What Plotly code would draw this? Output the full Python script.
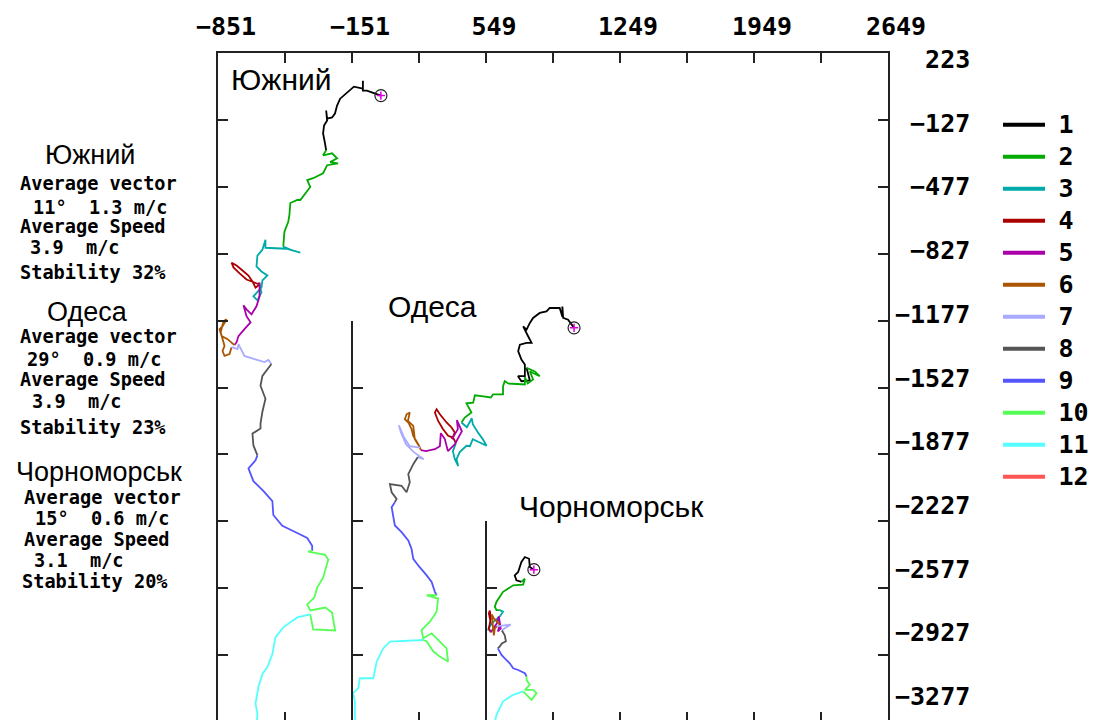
import plotly.graph_objects as go

# ---------------- data ----------------
MONTH_NAMES = ["1", "2", "3", "4", "5", "6", "7", "8", "9", "10", "11", "12"]
MONTH_COLORS = ["#000000", "#00aa00", "#00aaaa", "#aa0000", "#aa00aa", "#aa5500",
                "#aaaaff", "#555555", "#5555ff", "#55ff55", "#55ffff", "#ff5555"]

X_MIN, X_MAX = -851, 2649
X_TICKS = [-851, -501, -151, 199, 549, 899, 1249, 1599, 1949, 2299, 2649]
X_TICK_LABELS = ["\u2212851", "", "\u2212151", "", "549", "", "1249", "", "1949", "", "2649"]
Y_MIN, Y_MAX = -3277, 223
Y_TICKS = [223, -127, -477, -827, -1177, -1527, -1877, -2227, -2577, -2927, -3277]
Y_TICK_LABELS = ["223", "\u2212127", "\u2212477", "\u2212827", "\u22121177", "\u22121527",
                 "\u22121877", "\u22122227", "\u22122577", "\u22122927", "\u22123277"]

STATIONS = ["Южний", "Одеса", "Чорноморськ"]
AVG_DIRECTION = [11, 29, 15]
AVG_VECTOR = [1.3, 0.9, 0.6]
AVG_SPEED = [3.9, 3.9, 3.1]
STABILITY = [32, 23, 20]

# sub-axes (Odesa, Chornomorsk): x position and top value
SUB_AXIS_X = [-151, 549]
SUB_AXIS_TOP = [-1177, -2227]

# progressive vector paths, one list per month
YUZHNYI_X = [
    [0, -31, -73, -94, -94, -94, -141, -177, -213, -229, -240, -255, -281, -286, -281, -297, -302, -292, -286],
    [-286, -302, -255, -229, -265, -224, -281, -302, -354, -385, -369, -395, -421, -437, -473, -478, -484, -504, -510],
    [-510, -473, -421, -494, -603, -603, -619, -645, -650, -624, -593, -619, -624, -645, -666, -645, -624, -634],
    [-634, -681, -702, -738, -770, -780, -754, -723, -692, -671, -655, -640, -634],
    [-634, -634, -650, -676, -702, -718, -702, -681, -713, -744, -754, -765],
    [-765, -801, -832, -843, -827, -806, -822, -837, -817, -827, -817, -791, -780],
    [-780, -749, -744, -713, -660, -608, -588, -572],
    [-572, -619, -629, -614, -603, -619, -629, -629, -671, -666, -645],
    [-645, -655, -692, -666, -613, -567, -562, -515, -437, -385, -359, -359],
    [-359, -380, -291, -275, -302, -333, -348, -385, -369, -291, -255, -239, -354, -369],
    [-369, -437, -510, -551, -567, -593, -619, -640, -655, -645, -650],
]
YUZHNYI_Y = [
    [0, 10, 26, 26, 78, 36, 47, 16, -16, -52, -94, -114, -120, -78, -130, -156, -198, -250, -286],
    [-286, -312, -302, -328, -348, -354, -364, -406, -432, -442, -478, -510, -546, -546, -562, -624, -660, -712, -790],
    [-790, -806, -822, -801, -796, -754, -806, -837, -894, -920, -941, -967, -1004, -1030, -1050, -1071, -1030, -988],
    [-988, -972, -962, -930, -899, -874, -889, -915, -941, -972, -1004, -993, -978],
    [-978, -1050, -1102, -1144, -1118, -1097, -1154, -1186, -1222, -1258, -1290, -1305],
    [-1305, -1274, -1258, -1222, -1206, -1170, -1180, -1238, -1310, -1336, -1362, -1352, -1316],
    [-1316, -1326, -1300, -1362, -1378, -1394, -1383, -1404],
    [-1404, -1466, -1518, -1560, -1586, -1654, -1716, -1742, -1768, -1830, -1882],
    [-1882, -1908, -1950, -2017, -2069, -2121, -2194, -2251, -2288, -2314, -2355, -2381],
    [-2381, -2386, -2402, -2428, -2522, -2574, -2626, -2662, -2693, -2678, -2704, -2798, -2792, -2714],
    [-2714, -2730, -2782, -2834, -2922, -2990, -3026, -3094, -3182, -3234, -3300],
]

ODESA_X = [
    [1009, 978, 952, 948, 948, 934, 882, 865, 830, 795, 778, 761, 743, 769, 787, 761, 726, 717, 734, 752, 752, 716, 734, 778, 761],
    [761, 804, 830, 778, 795, 767, 752, 752, 665, 647, 638, 638, 586, 574, 526, 491, 482, 447, 473, 438, 421],
    [421, 449, 475, 480, 506, 532, 552, 506, 480, 465, 447, 412, 395, 404, 386, 376, 392],
    [392, 377, 351, 325, 299, 282, 291, 308, 343, 369, 386, 371],
    [371, 402, 397, 423, 386, 350, 334, 313, 308, 282, 235, 209],
    [209, 195, 169, 160, 143, 125, 134, 151, 141, 169, 177, 204],
    [204, 151, 120, 94, 104, 131, 172, 224, 193],
    [193, 169, 143, 151, 134, 108, 47, 56, 82, 73],
    [73, 56, 73, 108, 143, 160, 169, 195, 239, 265, 282, 291],
    [291, 239, 299, 291, 256, 212, 221, 265, 343, 351, 308, 273, 239, 221],
    [221, 169, 47, 12, -22, -40, -110, -118, -145, -136, -136, -130],
]
ODESA_Y = [
    [-1215, -1172, -1163, -1103, -1157, -1111, -1111, -1129, -1137, -1163, -1189, -1224, -1207, -1259, -1294, -1294, -1303, -1337, -1381, -1407, -1468, -1468, -1494, -1490, -1424],
    [-1424, -1443, -1468, -1443, -1485, -1506, -1474, -1511, -1506, -1494, -1520, -1563, -1563, -1579, -1572, -1568, -1606, -1610, -1658, -1684, -1710],
    [-1710, -1735, -1688, -1719, -1761, -1797, -1832, -1808, -1797, -1834, -1832, -1865, -1902, -1938, -1902, -1860, -1818],
    [-1818, -1789, -1780, -1745, -1702, -1658, -1641, -1667, -1710, -1736, -1763, -1797],
    [-1797, -1745, -1698, -1756, -1824, -1860, -1797, -1766, -1834, -1850, -1860, -1855],
    [-1855, -1824, -1780, -1745, -1710, -1693, -1667, -1658, -1702, -1728, -1797, -1841],
    [-1841, -1834, -1787, -1725, -1761, -1824, -1865, -1902, -1891],
    [-1891, -1928, -1980, -2023, -2075, -2041, -2032, -2075, -2110, -2127],
    [-2127, -2153, -2249, -2284, -2327, -2371, -2423, -2458, -2510, -2544, -2596, -2614],
    [-2614, -2614, -2631, -2700, -2752, -2796, -2839, -2813, -2892, -2961, -2935, -2907, -2855, -2848],
    [-2848, -2851, -2857, -2892, -2961, -3048, -3048, -3100, -3126, -3168, -3241, -3308],
]

CHORNOMORSK_X = [
    [799, 778, 774, 752, 734, 726, 717, 699, 708, 734],
    [734, 752, 743, 691, 665, 638, 621, 604, 595, 604, 621],
    [621, 638, 621, 595, 569, 559, 574],
    [574, 564, 569, 574, 564, 574],
    [574, 606, 616, 626, 611, 621],
    [621, 590, 579, 585, 590, 595, 606],
    [606, 637, 679, 647, 632],
    [632, 647, 653, 632, 621, 611],
    [611, 630, 647, 673, 691, 717, 752, 761],
    [761, 761, 778, 752, 795, 813, 787, 761, 743],
    [743, 691, 638, 621, 604, 590],
]
CHORNOMORSK_Y = [
    [-2480, -2466, -2423, -2414, -2440, -2466, -2492, -2510, -2536, -2544],
    [-2544, -2527, -2558, -2562, -2579, -2596, -2622, -2648, -2674, -2692, -2692],
    [-2692, -2700, -2725, -2746, -2777, -2798, -2761],
    [-2761, -2709, -2694, -2735, -2787, -2808],
    [-2808, -2761, -2725, -2787, -2803, -2767],
    [-2767, -2735, -2714, -2777, -2824, -2787, -2777],
    [-2777, -2772, -2767, -2787, -2798],
    [-2798, -2824, -2855, -2866, -2881, -2892],
    [-2892, -2926, -2944, -2970, -2996, -3005, -3022, -3039],
    [-3039, -3057, -3083, -3109, -3109, -3126, -3161, -3135, -3117],
    [-3117, -3135, -3169, -3204, -3239, -3298],
]

# ---------------- layout geometry ----------------
W, H = 1100, 720
OFF = 8                                   # page body margin
# plot-area edges in figure pixels
PL, PR, PT, PB = 210, 880, 44, 716

# tick labels of the y axis sit on a slightly different pitch in the original
LBL_TOP, LBL_STEP = 50.3, 64.0            # figure px of first label, px per label
LBL_UPP = 350 / LBL_STEP
LBL_MAX = Y_MAX + (LBL_TOP - PT) * LBL_UPP
LBL_MIN = Y_MAX - (PB - LBL_TOP) * LBL_UPP


def pxx(p):
    """screen x pixel -> paper x"""
    return (p - OFF - PL) / (PR - PL)


def pxy(p):
    """screen y pixel -> paper y"""
    return (PB - (p - OFF)) / (PB - PT)


MONO = "DejaVu Sans Mono"
SANS = "Liberation Sans, Arial, sans-serif"
AXCOL = "#222222"

fig = go.Figure()

paths = [(YUZHNYI_X, YUZHNYI_Y), (ODESA_X, ODESA_Y), (CHORNOMORSK_X, CHORNOMORSK_Y)]
for sx, sy in paths:
    for m, (mx, my) in enumerate(zip(sx, sy)):
        fig.add_trace(go.Scatter(x=mx, y=my, mode="lines",
                                 line=dict(color=MONTH_COLORS[m], width=1.8),
                                 showlegend=False, hoverinfo="skip"))
    # origin marker
    fig.add_trace(go.Scatter(x=[sx[0][0]], y=[sy[0][0]], mode="markers",
                             marker=dict(symbol="circle-open", size=12, color="#222222",
                                         line=dict(width=1.2)),
                             showlegend=False, hoverinfo="skip"))
    fig.add_trace(go.Scatter(x=[sx[0][0]], y=[sy[0][0]], mode="markers",
                             marker=dict(symbol="cross-thin-open", size=6, color="#dd00dd",
                                         line=dict(width=1.5, color="#dd00dd")),
                             showlegend=False, hoverinfo="skip"))

# legend entries
GAP = '<span style="font-size:14px">\u00a0</span>'
for name, col in zip(MONTH_NAMES, MONTH_COLORS):
    fig.add_trace(go.Scatter(x=[None], y=[None], mode="lines",
                             name=GAP + '<span style="font-size:25px;font-weight:bold">%s</span>' % name,
                             line=dict(color=col, width=4), showlegend=True))

# helper traces that create the extra axes
fig.add_trace(go.Scatter(x=[None], y=[None], xaxis="x", yaxis="y2", showlegend=False))
fig.add_trace(go.Scatter(x=[None], y=[None], xaxis="x", yaxis="y3", showlegend=False))
fig.add_trace(go.Scatter(x=[None], y=[None], xaxis="x", yaxis="y4", showlegend=False))

tickfont = dict(family=MONO, size=25, color="black", weight="bold")
common_off = dict(showgrid=False, zeroline=False, fixedrange=True)

pad_len = max(len(t) for t in Y_TICK_LABELS)
y_labels = ["\u00a0" * (pad_len - len(t)) + t for t in Y_TICK_LABELS]

sub_axes = {}
for i, (xv, ytop) in enumerate(zip(SUB_AXIS_X, SUB_AXIS_TOP)):
    sub_axes["yaxis%d" % (i + 3)] = dict(
        anchor="free", position=(xv - X_MIN) / (X_MAX - X_MIN),
        domain=[0, (ytop - Y_MIN) / (Y_MAX - Y_MIN)], range=[Y_MIN, ytop],
        showline=True, linecolor=AXCOL, linewidth=2,
        ticks="inside", ticklen=10, tickwidth=2, tickcolor=AXCOL,
        tickvals=Y_TICKS, showticklabels=False, **common_off)

fig.update_layout(
    width=W, height=H,
    margin=dict(l=PL, r=W - PR, t=PT, b=H - PB, pad=0),
    paper_bgcolor="white", plot_bgcolor="rgba(0,0,0,0)",
    showlegend=True,
    legend=dict(x=pxx(998), y=pxy(103), xanchor="left", yanchor="top",
                font=dict(family=MONO, size=22.3, color="black"),
                bgcolor="rgba(0,0,0,0)", borderwidth=0, itemwidth=42,
                tracegroupgap=0),
    xaxis=dict(range=[X_MIN, X_MAX], side="top", showline=True, linecolor=AXCOL, linewidth=2,
               mirror="ticks", ticks="inside", ticklen=10, tickwidth=2, tickcolor=AXCOL,
               tickvals=X_TICKS, ticktext=X_TICK_LABELS, tickfont=tickfont,
               ticklabelshift=8, ticklabelstandoff=6, **common_off),
    yaxis=dict(range=[Y_MIN, Y_MAX], showline=True, linecolor=AXCOL, linewidth=2, mirror="ticks",
               ticks="inside", ticklen=10, tickwidth=2, tickcolor=AXCOL,
               tickvals=Y_TICKS, showticklabels=False, **common_off),
    yaxis2=dict(range=[LBL_MIN, LBL_MAX], overlaying="y", side="right", anchor="x",
                showline=False, ticks="", tickvals=Y_TICKS, ticktext=y_labels,
                tickfont=tickfont, ticklabelstandoff=6, **common_off),
    **sub_axes,
)

annotations = []
# station labels inside the plot
for name, lx, ly in zip(STATIONS, [229, 386, 517], [79, 307, 508]):
    annotations.append(dict(text=name, x=pxx(lx), y=pxy(ly), xref="paper", yref="paper",
                            xanchor="left", yanchor="middle", showarrow=False,
                            font=dict(family=SANS, size=30, color="black")))

# left statistics panel
NAME_POS = [(90, 154), (87, 312), (99, 473)]
LINE_Y = [[183, 207, 226, 247, 272], [337, 360, 380, 402, 428], [498, 520, 541, 562, 583]]
LINE_X = [[18, 31, 18, 28, 18], [18, 25, 18, 30, 18], [22, 33, 22, 32, 20]]
NB = "\u00a0"
for i, name in enumerate(STATIONS):
    annotations.append(dict(text=name, x=pxx(NAME_POS[i][0]), y=pxy(NAME_POS[i][1]),
                            xref="paper", yref="paper", xanchor="center", yanchor="middle",
                            showarrow=False, font=dict(family=SANS, size=27, color="black")))
    lines = [
        "Average" + NB + "vector",
        "%d°%s%.1f%sm/c" % (AVG_DIRECTION[i], NB * 2, AVG_VECTOR[i], NB),
        "Average" + NB + "Speed",
        "%.1f%sm/c" % (AVG_SPEED[i], NB * 2),
        "Stability" + NB + "%d%%" % STABILITY[i],
    ]
    for t, lx, ly in zip(lines, LINE_X[i], LINE_Y[i]):
        annotations.append(dict(text="<b>%s</b>" % t, x=pxx(lx), y=pxy(ly),
                                xref="paper", yref="paper", xanchor="left", yanchor="middle",
                                showarrow=False,
                                font=dict(family=MONO, size=18.6, color="black")))

fig.update_layout(annotations=annotations)
fig.write_html("out.html")
